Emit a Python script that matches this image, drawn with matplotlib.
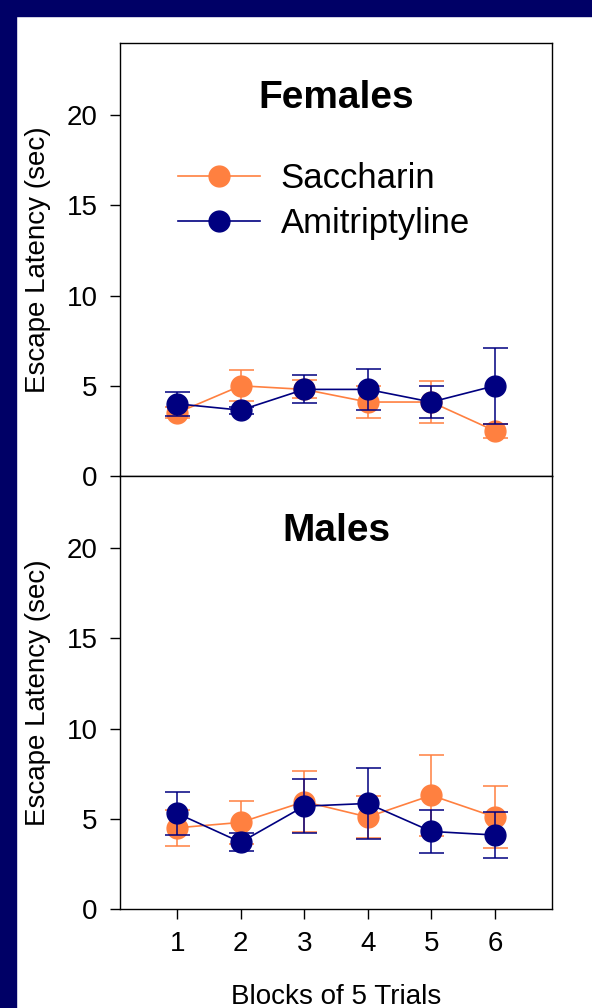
import matplotlib.pyplot as plt
from matplotlib.patches import Rectangle
from matplotlib.lines import Line2D

plt.rcParams['font.family'] = ['Liberation Sans', 'DejaVu Sans']

# --- datos ---
bloques = [1, 2, 3, 4, 5, 6]

hembras_sac = [3.5, 5.0, 4.8, 4.1, 4.1, 2.5]
hembras_sac_err = [0.3, 0.85, 0.5, 0.9, 1.15, 0.4]
hembras_ami = [4.0, 3.65, 4.8, 4.8, 4.1, 5.0]
hembras_ami_err = [0.65, 0.2, 0.78, 1.15, 0.9, 2.1]

machos_sac = [4.5, 4.8, 5.95, 5.1, 6.3, 5.1]
machos_sac_err = [1.0, 1.2, 1.7, 1.15, 2.25, 1.7]
machos_ami = [5.3, 3.7, 5.7, 5.85, 4.3, 4.1]
machos_ami_err = [1.2, 0.5, 1.5, 1.95, 1.2, 1.3]

yticks = [0, 5, 10, 15, 20]

color_sac = '#FF8040'
color_ami = '#000080'
color_borde = '#000066'

W, H = 592, 1008
fig = plt.figure(figsize=(W / 100, H / 100), dpi=100)

# marco azul oscuro (arriba e izquierda)
fig.patches.append(Rectangle((0, 0), 16 / W, 1, transform=fig.transFigure,
                             color=color_borde, zorder=0))
fig.patches.append(Rectangle((0, 1 - 16 / H), 1, 16 / H, transform=fig.transFigure,
                             color=color_borde, zorder=0))

left, width = 120 / W, 432 / W
alto = 433 / H
ax1 = fig.add_axes([left, (H - 476) / H, width, alto])
ax2 = fig.add_axes([left, (H - 909) / H, width, alto])


def panel(ax, sac, sac_err, ami, ami_err, titulo):
    ax.errorbar(bloques, sac, yerr=sac_err, color=color_sac, lw=1.2, marker='o',
                ms=15, mec=color_sac, capsize=9, elinewidth=1.1, capthick=1.1,
                label='Saccharin', zorder=3)
    ax.errorbar(bloques, ami, yerr=ami_err, color=color_ami, lw=1.2, marker='o',
                ms=15, mec=color_ami, capsize=9, elinewidth=1.1, capthick=1.1,
                label='Amitriptyline', zorder=4)
    ax.set_xlim(0.1, 6.9)
    ax.set_ylim(0, 24)
    ax.set_yticks(yticks)
    ax.tick_params(axis='y', direction='out', length=7, width=1, pad=9,
                   labelsize=20)
    ax.set_ylabel('Escape Latency (sec)', fontsize=20, labelpad=11)
    ax.text(0.5, 0.872, titulo, transform=ax.transAxes, ha='center', va='center',
            fontsize=28, fontweight='bold')
    for s in ax.spines.values():
        s.set_linewidth(1)
        s.set_color('black')


panel(ax1, hembras_sac, hembras_sac_err, hembras_ami, hembras_ami_err, 'Females')
panel(ax2, machos_sac, machos_sac_err, machos_ami, machos_ami_err, 'Males')

ax1.set_xticks([])
ax2.set_xticks(bloques)
ax2.tick_params(axis='x', direction='out', length=7, width=1, pad=9, labelsize=20)
ax2.set_xlabel('Blocks of 5 Trials', fontsize=20, labelpad=19)

# leyenda
handles = [Line2D([], [], color=color_sac, lw=1.2, marker='o', ms=15, mec=color_sac),
           Line2D([], [], color=color_ami, lw=1.2, marker='o', ms=15, mec=color_ami)]
ax1.legend(handles, ['Saccharin', 'Amitriptyline'], loc='center left',
           bbox_to_anchor=(0.135, 0.635), frameon=False, fontsize=25,
           handlelength=2.35, handletextpad=0.6, labelspacing=0.33,
           borderaxespad=0, borderpad=0)

fig.savefig('out.png', dpi=100)
